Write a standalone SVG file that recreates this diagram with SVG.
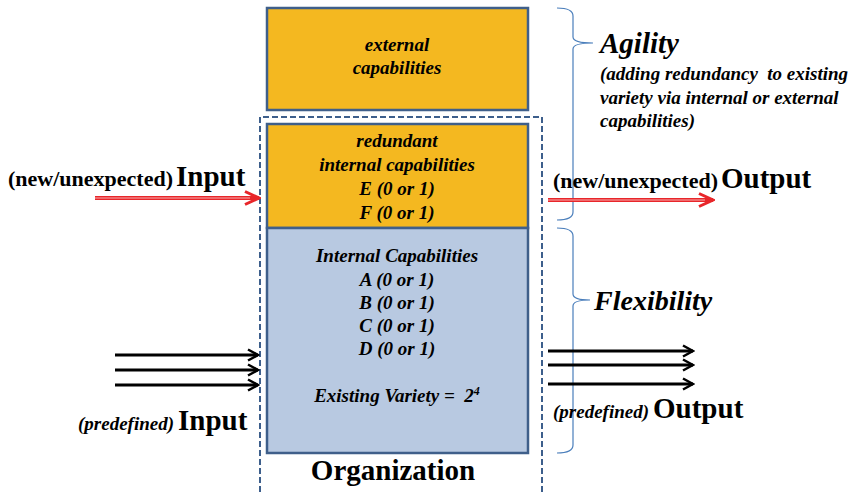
<svg xmlns="http://www.w3.org/2000/svg" width="858" height="492" viewBox="0 0 858 492">
  <defs>
    <style>
      .box-o { fill: #F4B820; stroke: #3f5f8a; stroke-width: 2.5; }
      .box-b { fill: #B8C9E1; stroke: #3f5f8a; stroke-width: 2.5; }
      .org { fill: none; stroke: #3d5f8c; stroke-width: 2; stroke-dasharray: 6 3; }
      .brace { fill: none; stroke: #4a7ebb; stroke-width: 1.2; }
      .bi { font-style: italic; font-size: 19px; }
      .mid { text-anchor: middle; }
      .big { font-size: 29px; }
      .lbl { font-size: 22px; }
      .blk { stroke: #000; stroke-width: 3; fill: none; }
      .red { stroke: #e8262a; stroke-width: 4; fill: none; }
      .redc { stroke: #f7b0b0; stroke-width: 1; fill: none; }
    </style>
    <marker id="headBlack" markerWidth="14" markerHeight="14" refX="12" refY="7" orient="auto" markerUnits="userSpaceOnUse">
      <path d="M2,1.5 L12,7 L2,12.5" fill="none" stroke="#000" stroke-width="2.5"/>
    </marker>
    <marker id="headRed" markerWidth="18" markerHeight="18" refX="16" refY="9" orient="auto" markerUnits="userSpaceOnUse">
      <path d="M2,2.5 L16,9 L2,15.5" fill="none" stroke="#e8262a" stroke-width="3"/>
    </marker>
  </defs>

  <g font-family="Liberation Serif, serif" font-weight="bold" fill="#000">
    <!-- organization boundary (open at the bottom) -->
    <g id="organization">
      <path class="org" d="M260,492 V117 H542 V492"/>
      <text class="big mid" x="393" y="480">Organization</text>
    </g>

    <g id="external">
      <rect class="box-o" x="267" y="8" width="261" height="102"/>
      <text class="bi mid" x="397" y="51">external</text>
      <text class="bi mid" x="397" y="74">capabilities</text>
    </g>

    <g id="redundant">
      <rect class="box-o" x="267" y="124" width="261" height="104"/>
      <text class="bi mid" x="397" y="147">redundant</text>
      <text class="bi mid" x="397" y="171">internal capabilities</text>
      <text class="bi mid" x="397" y="195">E (0 or 1)</text>
      <text class="bi mid" x="397" y="219">F (0 or 1)</text>
    </g>

    <g id="internal">
      <rect class="box-b" x="267" y="228" width="261" height="225"/>
      <text class="bi mid" x="397" y="262">Internal Capabilities</text>
      <text class="bi mid" x="397" y="286">A (0 or 1)</text>
      <text class="bi mid" x="397" y="309">B (0 or 1)</text>
      <text class="bi mid" x="397" y="332">C (0 or 1)</text>
      <text class="bi mid" x="397" y="355">D (0 or 1)</text>
      <text class="bi mid" x="397" y="402" xml:space="preserve">Existing Variety =  2<tspan font-size="12" dy="-7">4</tspan></text>
    </g>

    <g id="agility">
      <path class="brace" d="M557,8 Q573,8 573,16 V37 Q573,43 593,43 Q573,43 573,49 V212 Q573,220 557,220"/>
      <text x="600" y="53" font-style="italic" font-size="29">Agility</text>
      <text class="bi" x="600" y="80" xml:space="preserve">(adding redundancy  to existing</text>
      <text class="bi" x="600" y="104">variety via internal or external</text>
      <text class="bi" x="600" y="127">capabilities)</text>
    </g>

    <g id="flexibility">
      <path class="brace" d="M557,228 Q573,228 573,236 V294 Q573,300 590,300 Q573,300 573,306 V445 Q573,453 557,453"/>
      <text x="594" y="310" font-style="italic" font-size="28">Flexibility</text>
    </g>

    <g id="input-new">
      <text x="8" y="186"><tspan class="lbl">(new/unexpected)</tspan><tspan class="big" dx="3">Input</tspan></text>
    </g>
    <g id="output-new">
      <text x="553" y="188"><tspan class="lbl">(new/unexpected)</tspan><tspan class="big" dx="3">Output</tspan></text>
    </g>
    <g id="input-predefined">
      <text x="78" y="430"><tspan class="bi">(predefined)</tspan><tspan class="big" dx="4">Input</tspan></text>
    </g>
    <g id="output-predefined">
      <text x="553" y="418"><tspan class="bi">(predefined)</tspan><tspan class="big" dx="4">Output</tspan></text>
    </g>
  </g>

  <g id="connectors">
    <line class="red" x1="95" y1="198" x2="259" y2="198" marker-end="url(#headRed)"/>
    <line class="redc" x1="95" y1="198" x2="250" y2="198"/>
    <line class="red" x1="548" y1="200" x2="713" y2="200" marker-end="url(#headRed)"/>
    <line class="redc" x1="548" y1="200" x2="705" y2="200"/>

    <line class="blk" x1="115" y1="355" x2="258" y2="355" marker-end="url(#headBlack)"/>
    <line class="blk" x1="115" y1="370" x2="258" y2="370" marker-end="url(#headBlack)"/>
    <line class="blk" x1="115" y1="385" x2="258" y2="385" marker-end="url(#headBlack)"/>

    <line class="blk" x1="548" y1="351" x2="693" y2="351" marker-end="url(#headBlack)"/>
    <line class="blk" x1="548" y1="365" x2="693" y2="365" marker-end="url(#headBlack)"/>
    <line class="blk" x1="548" y1="384" x2="693" y2="384" marker-end="url(#headBlack)"/>
  </g>
</svg>
